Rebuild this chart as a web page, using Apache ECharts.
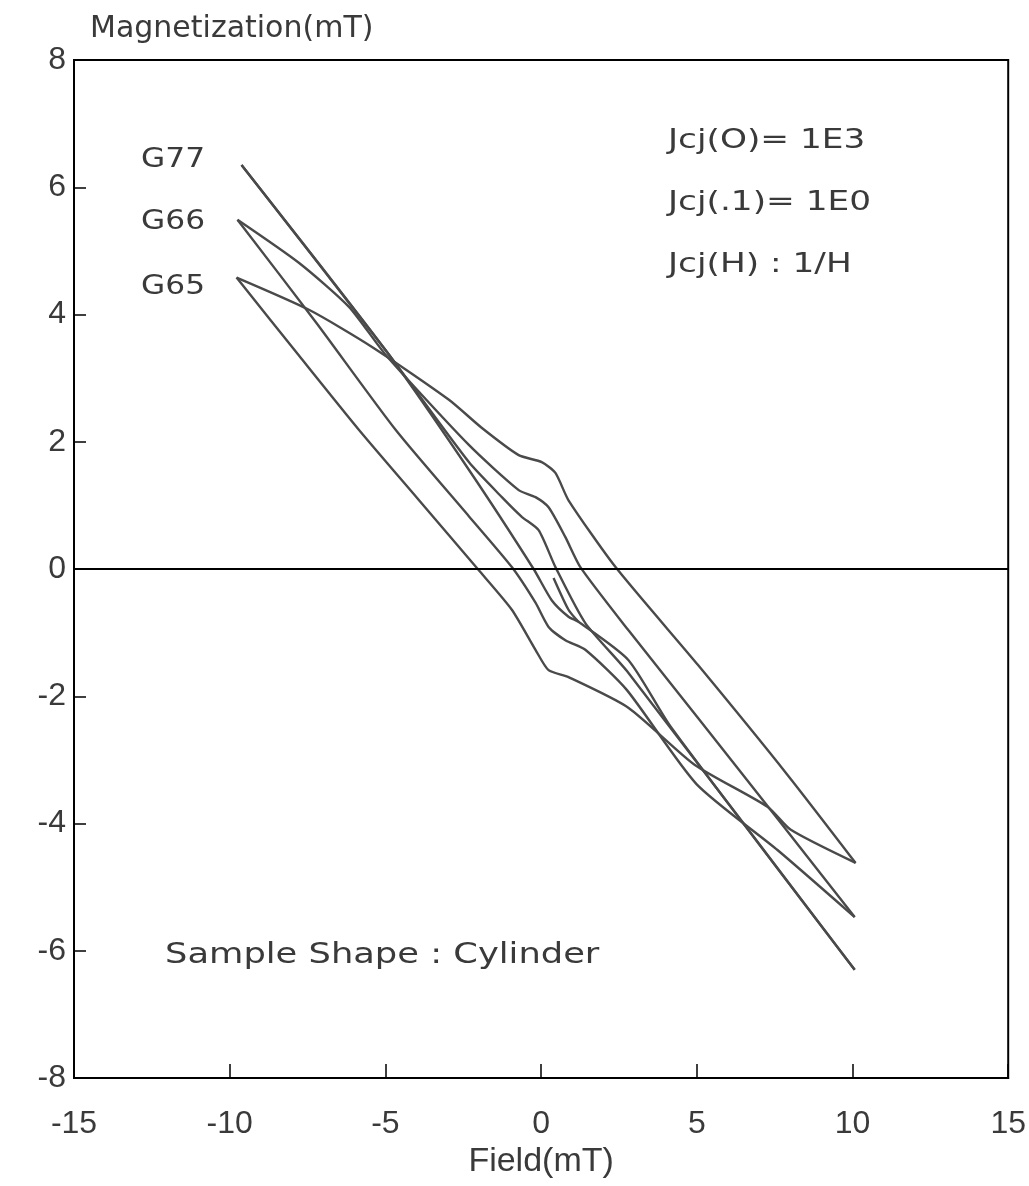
<!DOCTYPE html>
<html>
<head>
<meta charset="utf-8">
<script src="https://cdn.jsdelivr.net/npm/echarts@6/dist/echarts.min.js"></script>
<style>
html,body{margin:0;padding:0;background:#fff;}
#chart{width:1029px;height:1186px;}
</style>
</head>
<body>
<div id="chart"></div>
<script>
// ---- data: [field (mT), magnetization (mT)] ----
const g77Upper = [[-9.62,6.35],[-4.98,3.43],[-2.32,1.68],[-1.26,1.13],[-0.62,0.82],[-0.08,0.61],[0.46,0.03],[1.42,-0.85],[2.80,-1.63],[10.07,-6.30]];
const g77Lower = [[-9.62,6.35],[-4.98,3.43],[-2.32,1.56],[-0.24,0.00],[0.34,-0.49],[0.88,-0.75],[1.20,-0.83],[2.80,-1.43],[4.15,-2.47],[10.07,-6.30]];
const g77Virgin = [[0.40,-0.14],[0.88,-0.64],[1.20,-0.83]];
const g66Upper = [[-9.75,5.49],[-7.77,4.81],[-6.17,4.12],[-4.98,3.36],[-2.32,1.95],[-0.72,1.24],[-0.18,1.13],[0.24,0.97],[0.78,0.50],[1.26,0.03],[2.80,-0.96],[5.04,-2.34],[7.60,-3.93],[10.07,-5.47]];
const g66Lower = [[-9.75,5.49],[-7.22,3.87],[-4.66,2.18],[-2.32,0.83],[-0.94,0.03],[-0.18,-0.53],[0.24,-0.91],[0.78,-1.12],[1.42,-1.27],[2.75,-1.90],[4.99,-3.38],[7.60,-4.42],[10.07,-5.47]];
const g65Upper = [[-9.78,4.58],[-7.44,4.07],[-5.43,3.49],[-2.96,2.66],[-1.91,2.22],[-0.72,1.79],[0.02,1.68],[0.46,1.51],[0.88,1.08],[2.39,0.03],[5.04,-1.51],[7.92,-3.24],[10.10,-4.62]];
const g65Lower = [[-9.78,4.58],[-7.77,3.35],[-5.84,2.18],[-3.92,1.08],[-2.00,-0.02],[-0.94,-0.64],[-0.18,-1.27],[0.24,-1.59],[0.88,-1.70],[2.80,-2.18],[4.94,-3.08],[7.28,-3.74],[8.02,-4.10],[10.10,-4.62]];

const sampleNames = ['G77','G66','G65'];
const notes = ['Jcj(O)= 1E3','Jcj(.1)= 1E0','Jcj(H) : 1/H'];
const shapeNote = 'Sample Shape : Cylinder';

const lineColor = '#4a4a4a';
const textColor = '#3a3a3a';

function branch(name, data){
  return {
    name: name, type: 'line', data: data,
    showSymbol: false, symbol: 'none',
    smooth: 0.22,
    lineStyle: {color: lineColor, width: 2.4},
    silent: true, z: 3
  };
}

const series = [
  branch('G77 up', g77Upper),
  branch('G77 down', g77Lower),
  branch('G77 virgin', g77Virgin),
  branch('G66 up', g66Upper),
  branch('G66 down', g66Lower),
  branch('G65 up', g65Upper),
  branch('G65 down', g65Lower)
];
series[0].markLine = {
  silent: true, symbol: 'none', label: {show: false},
  lineStyle: {color: '#000', width: 2, type: 'solid'},
  data: [{yAxis: 0}]
};

const chart = echarts.init(document.getElementById('chart'), null, {renderer: 'canvas'});

const labelFont = {fontFamily: 'Liberation Sans', fontSize: 32, color: textColor};

function noteText(txt, x, y, align, size, sx){
  return {
    type: 'text', x: x, y: y, scaleX: sx, silent: true,
    style: {text: txt, fill: textColor, fontFamily: 'DejaVu Sans', fontSize: size,
            align: align, verticalAlign: 'middle', textAlign: align, textVerticalAlign: 'middle'}
  };
}

const graphics = [
  noteText(sampleNames[0], 205, 160, 'right', 26, 1.2),
  noteText(sampleNames[1], 205, 222, 'right', 26, 1.2),
  noteText(sampleNames[2], 205, 287, 'right', 26, 1.2),
  noteText(notes[0], 668, 141, 'left', 26, 1.32),
  noteText(notes[1], 668, 203, 'left', 26, 1.32),
  noteText(notes[2], 668, 265, 'left', 26, 1.32),
  noteText(shapeNote, 165, 956, 'left', 28, 1.26)
];

chart.setOption({
  animation: false,
  backgroundColor: '#fff',
  grid: {left: 74, right: 18, top: 60, bottom: 108, show: true, borderColor: '#000', borderWidth: 2, backgroundColor: 'transparent'},
  xAxis: {
    type: 'value', min: -15, max: 15, interval: 5,
    name: 'Field(mT)', nameLocation: 'middle', nameGap: 62,
    nameTextStyle: {fontFamily: 'Liberation Sans', fontSize: 34, color: textColor},
    axisLine: {show: true, onZero: false, lineStyle: {color: '#000', width: 2}},
    axisTick: {show: true, inside: true, length: 14, lineStyle: {color: '#000', width: 1.5}},
    axisLabel: Object.assign({margin: 30}, labelFont),
    splitLine: {show: false}
  },
  yAxis: {
    type: 'value', min: -8, max: 8, interval: 2,
    name: 'Magnetization(mT)', nameLocation: 'end', nameGap: 16,
    nameTextStyle: {fontFamily: 'DejaVu Sans', fontSize: 30, color: textColor, align: 'left', padding: [0,0,0,16]},
    axisLine: {show: true, onZero: false, lineStyle: {color: '#000', width: 2}},
    axisTick: {show: true, inside: true, length: 12, lineStyle: {color: '#000', width: 1.5}},
    axisLabel: Object.assign({margin: 8}, labelFont),
    splitLine: {show: false}
  },
  series: series,
  graphic: graphics
});
</script>
</body>
</html>
